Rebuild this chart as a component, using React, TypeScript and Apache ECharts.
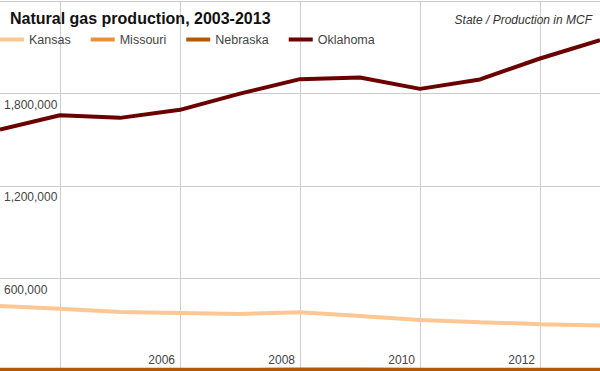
import React, { useEffect, useRef } from "react";
import * as echarts from "echarts";

const years = ["2003", "2004", "2005", "2006", "2007", "2008", "2009", "2010", "2011", "2012", "2013"];
const kansas = [422000, 403000, 383000, 377000, 370000, 381000, 357000, 331000, 317000, 304000, 295000];
const missouri = [0, 0, 0, 0, 0, 0, 8, 14, 8, 7, 6];
const nebraska = [1900, 1500, 1300, 1400, 1900, 2800, 3100, 2100, 1700, 1200, 900];
const oklahoma = [1566000, 1659000, 1642000, 1694000, 1799000, 1893000, 1904000, 1830000, 1891000, 2027000, 2146000];
const labeledYears = ["2006", "2008", "2010", "2012"];
const yTickLabels = ["600,000", "1,200,000", "1,800,000"];

const FONT = "Liberation Sans, Arial, sans-serif";

export default function App() {
  const ref = useRef<HTMLDivElement>(null);
  useEffect(() => {
    if (!ref.current) return;
    const chart = echarts.init(ref.current, null, { renderer: "svg" });
    const mk = (name: string, data: number[], color: string, width = 4) => ({
      name,
      type: "line",
      data,
      showSymbol: false,
      symbol: "none",
      lineStyle: { color, width },
      itemStyle: { color },
    });
    chart.setOption({
      animation: false,
      backgroundColor: "#fff",
      textStyle: { fontFamily: FONT },
      title: [
        {
          text: "Natural gas production, 2003-2013",
          left: 10,
          top: 10,
          padding: 0,
          textStyle: { fontSize: 16, fontWeight: "bold", color: "#111", fontFamily: FONT },
        },
        {
          text: "State / Production in MCF",
          right: 8,
          top: 14,
          padding: 0,
          textStyle: { fontSize: 12, fontStyle: "italic", fontWeight: "normal", color: "#333", fontFamily: FONT },
        },
      ],
      legend: {
        left: 0,
        top: 33,
        padding: 0,
        itemWidth: 24,
        itemHeight: 4,
        itemGap: 20,
        icon: "rect",
        textStyle: { fontSize: 12.5, color: "#444", fontFamily: FONT },
        data: ["Kansas", "Missouri", "Nebraska", "Oklahoma"],
      },
      grid: { left: 0, right: 0, top: 1, bottom: 0, containLabel: false },
      xAxis: {
        type: "category",
        boundaryGap: false,
        data: years,
        axisLine: { show: false },
        axisTick: { show: false },
        axisLabel: {
          inside: true,
          margin: 5,
          verticalAlign: "bottom",
          align: "right",
          padding: [0, 5, 0, 0],
          fontSize: 12,
          color: "#444",
          fontFamily: FONT,
          interval: (i: number, v: string) => labeledYears.includes(v),
        },
        splitLine: {
          show: true,
          interval: (i: number) => i % 2 === 1,
          lineStyle: { color: "#ccc", width: 1 },
        },
      },
      yAxis: {
        type: "value",
        min: 0,
        max: 2400000,
        interval: 600000,
        axisLine: { show: false },
        axisTick: { show: false },
        axisLabel: {
          inside: true,
          margin: 4,
          verticalAlign: "top",
          padding: [5, 0, 0, 0],
          fontSize: 12,
          color: "#444",
          fontFamily: FONT,
          formatter: (v: number) => {
            const s = v.toLocaleString("en-US");
            return yTickLabels.includes(s) ? s : "";
          },
        },
        splitLine: { show: true, lineStyle: { color: "#ccc", width: 1 } },
      },
      series: [
        mk("Kansas", kansas, "#fdc793"),
        mk("Missouri", missouri, "#e8913a", 6),
        mk("Nebraska", nebraska, "#b35806", 6),
        mk("Oklahoma", oklahoma, "#6b0000"),
      ],
    });
    return () => chart.dispose();
  }, []);
  return <div ref={ref} style={{ width: 600, height: 371, position: "absolute", left: 0, top: 0 }} />;
}
